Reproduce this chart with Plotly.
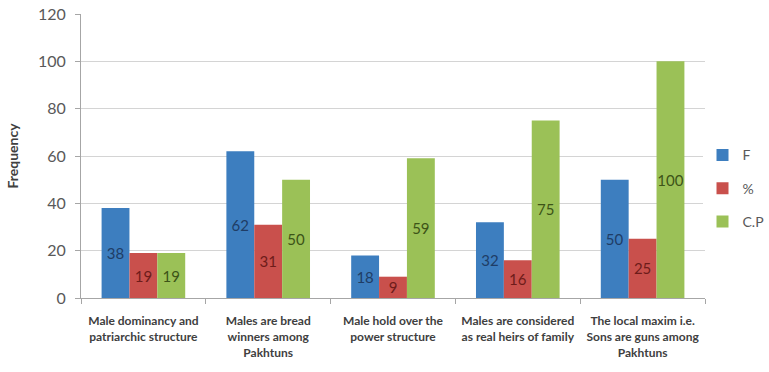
import plotly.graph_objects as go

categories = [
    "Male dominancy and<br>patriarchic structure",
    "Males are bread<br>winners among<br>Pakhtuns",
    "Male hold over the<br>power structure",
    "Males are considered<br>as real heirs of family",
    "The local maxim i.e.<br>Sons are guns among<br>Pakhtuns",
]
series_names = ["F", "%", "C.P"]
f_values = [38, 62, 18, 32, 50]
pct_values = [19, 31, 9, 16, 25]
cp_values = [19, 50, 59, 75, 100]
y_ticks = [0, 20, 40, 60, 80, 100, 120]

bar_colors = ["#3D7EBF", "#C9504C", "#9BC157"]
label_colors = ["#1F3D66", "#6E1C1A", "#3D5418"]

fig = go.Figure()
for i, (name, vals) in enumerate(zip(series_names, [f_values, pct_values, cp_values])):
    fig.add_trace(go.Bar(
        x=categories, y=vals, name=name,
        marker=dict(color=bar_colors[i], line=dict(width=0)),
        text=[str(v) for v in vals],
        textposition="inside", insidetextanchor="middle",
        textangle=0, constraintext="none",
        textfont=dict(family="Lato", size=15, color=label_colors[i]),
        legendgroup=name,
    ))

fig.update_layout(
    width=769, height=372,
    margin=dict(l=81, r=64, t=14, b=74, autoexpand=False),
    paper_bgcolor="white", plot_bgcolor="white",
    barmode="group", bargap=0.33, bargroupgap=0,
    font=dict(family="Lato", color="#595959"),
    legend=dict(x=0.996, y=0.386, yanchor="middle", xanchor="left",
                font=dict(size=14, color="#595959"),
                traceorder="grouped", tracegroupgap=12,
                itemwidth=30),
    showlegend=True,
)
fig.update_yaxes(
    range=[0, 120], tickvals=y_ticks, ticktext=[str(t) for t in y_ticks],
    showgrid=True, gridcolor="#D4D4D4", gridwidth=1,
    showline=True, linecolor="#A6A6A6", linewidth=1,
    ticks="outside", ticklen=5, tickcolor="#A6A6A6",
    tickfont=dict(size=16, color="#595959"),
    ticklabelstandoff=6,
    zeroline=False,
    title=dict(text="<b>Frequency</b>", font=dict(size=14, color="#404040"), standoff=16),
)
fig.update_xaxes(
    showline=True, linecolor="#A6A6A6", linewidth=1,
    ticks="outside", tickson="boundaries", ticklen=5, tickcolor="#A6A6A6",
    tickfont=dict(size=12, color="#404040", family="Lato"),
    tickangle=0, ticklabelstandoff=12,
)
fig.update_xaxes(ticktext=["<b>" + c + "</b>" for c in categories], tickvals=categories)

fig.write_html("out.html")
